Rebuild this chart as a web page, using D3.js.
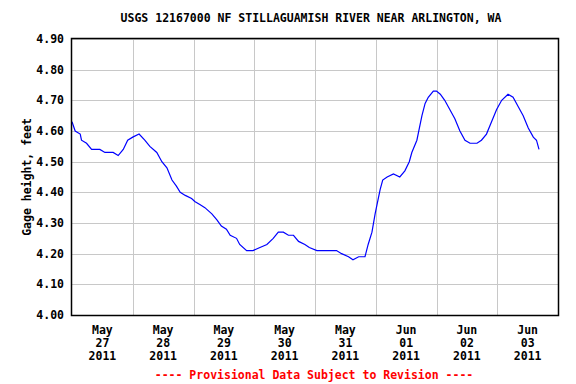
<!DOCTYPE html>
<html>
<head>
  <meta charset="utf-8">
  <title>USGS 12167000 Gage height</title>
  <script src="https://cdn.jsdelivr.net/npm/d3@7"></script>
  <style>
    body { margin: 0; background: #fff; }
    text { font-family: "DejaVu Sans Mono", "Liberation Mono", monospace; font-weight: bold; }
  </style>
</head>
<body>
<div id="chart"></div>
<script>

// readings (time, gage height in feet)
var times = [
  "2011-05-27 00:00", "2011-05-27 01:15", "2011-05-27 03:15", "2011-05-27 03:45", "2011-05-27 05:45",
  "2011-05-27 07:45", "2011-05-27 11:00", "2011-05-27 13:00", "2011-05-27 16:15", "2011-05-27 18:15",
  "2011-05-27 20:15", "2011-05-27 22:00", "2011-05-28 00:00", "2011-05-28 02:30", "2011-05-28 04:45",
  "2011-05-28 06:45", "2011-05-28 09:30", "2011-05-28 11:30", "2011-05-28 13:30", "2011-05-28 15:30",
  "2011-05-28 17:15", "2011-05-28 18:45", "2011-05-28 20:45", "2011-05-28 23:15", "2011-05-29 00:30",
  "2011-05-29 02:30", "2011-05-29 04:30", "2011-05-29 07:15", "2011-05-29 09:15", "2011-05-29 11:00",
  "2011-05-29 13:00", "2011-05-29 14:30", "2011-05-29 17:00", "2011-05-29 18:15", "2011-05-29 21:00",
  "2011-05-29 23:30", "2011-05-30 02:15", "2011-05-30 05:00", "2011-05-30 07:30", "2011-05-30 09:30",
  "2011-05-30 11:30", "2011-05-30 13:30", "2011-05-30 15:30", "2011-05-30 17:30", "2011-05-30 20:00",
  "2011-05-30 21:45", "2011-05-31 00:45", "2011-05-31 04:30", "2011-05-31 08:30", "2011-05-31 10:30",
  "2011-05-31 13:15", "2011-05-31 15:00", "2011-05-31 17:15", "2011-05-31 19:45", "2011-05-31 21:00",
  "2011-05-31 22:30", "2011-05-31 23:45", "2011-06-01 00:30", "2011-06-01 01:45", "2011-06-01 02:45",
  "2011-06-01 04:30", "2011-06-01 07:00", "2011-06-01 09:30", "2011-06-01 11:30", "2011-06-01 13:15",
  "2011-06-01 14:15", "2011-06-01 16:15", "2011-06-01 17:15", "2011-06-01 18:15", "2011-06-01 19:30",
  "2011-06-01 20:45", "2011-06-01 22:45", "2011-06-02 00:00", "2011-06-02 01:30", "2011-06-02 03:15",
  "2011-06-02 05:15", "2011-06-02 07:15", "2011-06-02 09:15", "2011-06-02 11:15", "2011-06-02 13:15",
  "2011-06-02 16:00", "2011-06-02 17:45", "2011-06-02 19:45", "2011-06-02 21:45", "2011-06-02 23:45",
  "2011-06-03 01:45", "2011-06-03 04:15", "2011-06-03 06:15", "2011-06-03 08:15", "2011-06-03 10:15",
  "2011-06-03 12:15", "2011-06-03 14:15", "2011-06-03 15:30", "2011-06-03 16:30"
];
var heights = [
  4.63, 4.60, 4.59, 4.57, 4.56,
  4.54, 4.54, 4.53, 4.53, 4.52,
  4.54, 4.57, 4.58, 4.59, 4.57,
  4.55, 4.53, 4.50, 4.48, 4.44,
  4.42, 4.40, 4.39, 4.38, 4.37,
  4.36, 4.35, 4.33, 4.31, 4.29,
  4.28, 4.26, 4.25, 4.23, 4.21,
  4.21, 4.22, 4.23, 4.25, 4.27,
  4.27, 4.26, 4.26, 4.24, 4.23,
  4.22, 4.21, 4.21, 4.21, 4.20,
  4.19, 4.18, 4.19, 4.19, 4.23,
  4.27, 4.33, 4.36, 4.41, 4.44,
  4.45, 4.46, 4.45, 4.47, 4.50,
  4.53, 4.57, 4.61, 4.65, 4.69,
  4.71, 4.73, 4.73, 4.72, 4.70,
  4.67, 4.64, 4.60, 4.57, 4.56,
  4.56, 4.57, 4.59, 4.63, 4.67,
  4.70, 4.72, 4.71, 4.68, 4.65,
  4.61, 4.58, 4.57, 4.54
];

var yTicks = [4.00, 4.10, 4.20, 4.30, 4.40, 4.50, 4.60, 4.70, 4.80, 4.90];
var dayTicks = ["2011-05-27", "2011-05-28", "2011-05-29", "2011-05-30", "2011-05-31", "2011-06-01", "2011-06-02", "2011-06-03"];

var titleText = "USGS 12167000 NF STILLAGUAMISH RIVER NEAR ARLINGTON, WA";
var yLabel = "Gage height, feet";
var footText = "---- Provisional Data Subject to Revision ----";

var width = 576, height = 384;
var margin = {top: 39, right: 18, bottom: 69, left: 72};
var w = width - margin.left - margin.right,
    h = height - margin.top - margin.bottom;

var parseTime = d3.timeParse("%Y-%m-%d %H:%M");
var parseDay = d3.timeParse("%Y-%m-%d");

var data = times.map(function(t, i) { return {date: parseTime(t), value: heights[i]}; });
var days = dayTicks.map(parseDay);

var x = d3.scaleTime()
  .domain([parseDay("2011-05-27"), parseDay("2011-06-04")])
  .range([0, w]);

var y = d3.scaleLinear()
  .domain([4.0, 4.9])
  .range([h, 0]);

var svg = d3.select("#chart").append("svg")
  .attr("width", width)
  .attr("height", height);

var g = svg.append("g")
  .attr("transform", "translate(" + margin.left + "," + margin.top + ")");

// gridlines
g.append("g")
  .selectAll("line.hg")
  .data(yTicks)
  .enter().append("line")
  .attr("x1", 0).attr("x2", w)
  .attr("y1", function(d) { return Math.round(y(d)) + 0.5; })
  .attr("y2", function(d) { return Math.round(y(d)) + 0.5; })
  .attr("stroke", "#c8c8c8");

g.append("g")
  .selectAll("line.vg")
  .data(days.slice(1))
  .enter().append("line")
  .attr("x1", function(d) { return Math.round(x(d)) + 0.5; })
  .attr("x2", function(d) { return Math.round(x(d)) + 0.5; })
  .attr("y1", 0).attr("y2", h)
  .attr("stroke", "#c8c8c8");

// data line
g.append("path")
  .datum(data)
  .attr("fill", "none")
  .attr("stroke", "#0000ff")
  .attr("stroke-width", 1.2)
  .attr("d", d3.line()
    .x(function(d) { return x(d.date); })
    .y(function(d) { return y(d.value); }));

// frame
g.append("rect")
  .attr("x", -0.5).attr("y", -0.5)
  .attr("width", w + 1).attr("height", h + 1)
  .attr("fill", "none")
  .attr("stroke", "#000")
  .attr("stroke-width", 1.5);

// y tick labels
g.append("g")
  .selectAll("text")
  .data(yTicks)
  .enter().append("text")
  .attr("x", -8)
  .attr("y", function(d) { return y(d); })
  .attr("dy", "0.35em")
  .attr("text-anchor", "end")
  .style("font-size", "11.5px")
  .text(function(d) { return d3.format(".2f")(d); });

// x tick labels, centred on each day
var fmtMon = d3.timeFormat("%b"), fmtDay = d3.timeFormat("%d"), fmtYear = d3.timeFormat("%Y");
var xl = g.append("g")
  .selectAll("text")
  .data(days)
  .enter().append("text")
  .attr("text-anchor", "middle")
  .style("font-size", "11.5px")
  .attr("transform", function(d) {
    return "translate(" + x(d3.timeHour.offset(d, 12)) + "," + (h + 19) + ")";
  });
xl.append("tspan").attr("x", 0).attr("y", 0).text(function(d) { return fmtMon(d); });
xl.append("tspan").attr("x", 0).attr("y", 13).text(function(d) { return fmtDay(d); });
xl.append("tspan").attr("x", 0).attr("y", 26).text(function(d) { return fmtYear(d); });

// title
svg.append("text")
  .attr("x", 311)
  .attr("y", 22)
  .attr("text-anchor", "middle")
  .style("font-size", "11.5px")
  .text(titleText);

// y axis title
svg.append("text")
  .attr("transform", "translate(31," + (margin.top + h / 2) + ") rotate(-90)")
  .attr("text-anchor", "middle")
  .style("font-size", "11.5px")
  .text(yLabel);

// footer
svg.append("text")
  .attr("x", 314)
  .attr("y", 379)
  .attr("text-anchor", "middle")
  .attr("fill", "#ff0000")
  .style("font-size", "11.5px")
  .text(footText);

</script>
</body>
</html>
